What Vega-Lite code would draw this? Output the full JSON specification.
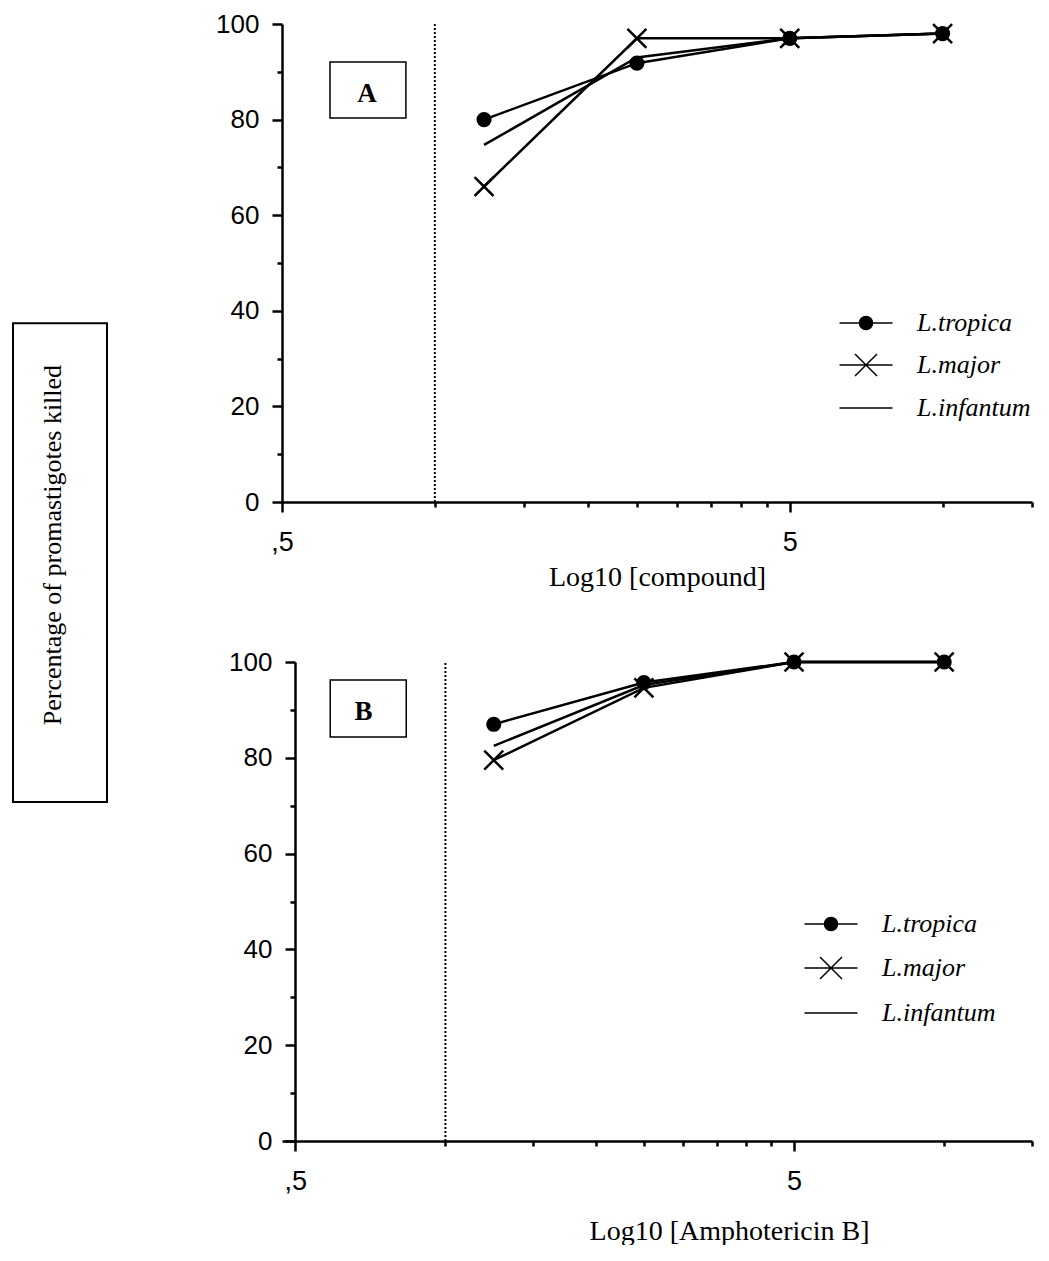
{
  "$schema": "https://vega.github.io/schema/vega-lite/v6.json",
  "background": "white",
  "padding": {"left": 12, "top": 11, "right": 0, "bottom": 0},
  "data": {"values": [
    {"panel": "A", "species": "L.tropica", "conc": 1.25, "pct": 80},
    {"panel": "A", "species": "L.tropica", "conc": 2.5, "pct": 91.8},
    {"panel": "A", "species": "L.tropica", "conc": 5, "pct": 97},
    {"panel": "A", "species": "L.tropica", "conc": 10, "pct": 98},
    {"panel": "A", "species": "L.major", "conc": 1.25, "pct": 66},
    {"panel": "A", "species": "L.major", "conc": 2.5, "pct": 97},
    {"panel": "A", "species": "L.major", "conc": 5, "pct": 97},
    {"panel": "A", "species": "L.major", "conc": 10, "pct": 98},
    {"panel": "A", "species": "L.infantum", "conc": 1.25, "pct": 74.7},
    {"panel": "A", "species": "L.infantum", "conc": 2.5, "pct": 93},
    {"panel": "A", "species": "L.infantum", "conc": 5, "pct": 97},
    {"panel": "A", "species": "L.infantum", "conc": 10, "pct": 98},
    {"panel": "B", "species": "L.tropica", "conc": 1.25, "pct": 87},
    {"panel": "B", "species": "L.tropica", "conc": 2.5, "pct": 95.7},
    {"panel": "B", "species": "L.tropica", "conc": 5, "pct": 100},
    {"panel": "B", "species": "L.tropica", "conc": 10, "pct": 100},
    {"panel": "B", "species": "L.major", "conc": 1.25, "pct": 79.5},
    {"panel": "B", "species": "L.major", "conc": 2.5, "pct": 94.6},
    {"panel": "B", "species": "L.major", "conc": 5, "pct": 100},
    {"panel": "B", "species": "L.major", "conc": 10, "pct": 100},
    {"panel": "B", "species": "L.infantum", "conc": 1.25, "pct": 82.5},
    {"panel": "B", "species": "L.infantum", "conc": 2.5, "pct": 95.2},
    {"panel": "B", "species": "L.infantum", "conc": 5, "pct": 100},
    {"panel": "B", "species": "L.infantum", "conc": 10, "pct": 100}
  ]},
  "spacing": 107,
  "hconcat": [
    {
      "width": 94,
      "height": 1129,
      "data": {"values": [{}]},
      "layer": [
        {
          "mark": {"type": "rect", "fill": "white", "stroke": "black", "strokeWidth": 2},
          "encoding": {
            "x": {"datum": 0, "type": "quantitative", "scale": {"domain": [0, 1], "nice": false}, "axis": null},
            "x2": {"datum": 1},
            "y": {"datum": 0.265, "type": "quantitative", "scale": {"domain": [0, 1], "reverse": true, "nice": false}, "axis": null},
            "y2": {"datum": 0.689}
          }
        },
        {
          "mark": {"type": "text", "angle": 270, "font": "Liberation Serif", "fontSize": 26, "align": "center", "baseline": "middle", "color": "black", "text": "Percentage of promastigotes killed"},
          "encoding": {
            "x": {"datum": 0.43, "type": "quantitative", "axis": null},
            "y": {"datum": 0.4615, "type": "quantitative", "axis": null}
          }
        }
      ]
    },
    {
      "spacing": 56,
      "vconcat": [
        {
          "width": 750,
          "height": 478,
          "resolve": {"axis": {"x": "independent", "y": "independent"}, "scale": {"shape": "independent"}},
          "layer": [
            {
              "data": {"values": [{}]},
              "mark": {"type": "rule", "strokeDash": [2, 2], "strokeWidth": 2, "color": "black"},
              "encoding": {
                "x": {"datum": 1, "type": "quantitative", "axis": null},
                "y": {"datum": 0, "type": "quantitative", "axis": null},
                "y2": {"datum": 100}
              }
            },
            {
              "data": {"values": [{}]},
              "mark": {"type": "rect", "fill": "white", "stroke": "black", "strokeWidth": 1.5},
              "encoding": {
                "x": {"datum": 0.6216, "type": "quantitative", "axis": null},
                "x2": {"datum": 0.877},
                "y": {"datum": 92.05, "type": "quantitative", "axis": null},
                "y2": {"datum": 80.33}
              }
            },
            {
              "data": {"values": [{}]},
              "mark": {"type": "text", "text": "A", "font": "Liberation Serif", "fontWeight": "bold", "fontSize": 27, "align": "center", "baseline": "alphabetic", "color": "black"},
              "encoding": {
                "x": {"datum": 0.735, "type": "quantitative", "axis": null},
                "y": {"datum": 83.7, "type": "quantitative", "axis": null}
              }
            },
            {
              "transform": [{"filter": "datum.panel == 'A'"}],
              "mark": {"type": "line", "color": "black", "strokeWidth": 2.5},
              "encoding": {
                "x": {"field": "conc", "type": "quantitative", "scale": {"type": "log", "domain": [0.5, 15], "nice": false},
                  "axis": {"values": [0.5, 5], "tickSize": 10, "labelExpr": "datum.value < 1 ? ',5' : '5'", "labelFlush": false, "labelPadding": 17, "labelFontSize": 27, "title": "Log10 [compound]", "titlePadding": 8}},
                "y": {"field": "pct", "type": "quantitative", "scale": {"domain": [0, 100], "nice": false},
                  "axis": {"values": [0, 20, 40, 60, 80, 100], "tickSize": 10, "labelPadding": 13, "title": null, "minExtent": 66}},
                "detail": {"field": "species"}
              }
            },
            {
              "transform": [{"filter": "datum.panel == 'A' && datum.species != 'L.infantum'"}],
              "mark": {"type": "point", "filled": true, "fill": "black", "stroke": "black", "strokeWidth": 2.5, "size": 160, "opacity": 1},
              "encoding": {
                "x": {"field": "conc", "type": "quantitative",
                  "axis": {"values": [1, 1.5, 2, 2.5, 3, 3.5, 4, 4.5, 10, 15], "tickSize": 5, "labels": false, "domain": false, "title": null, "orient": "bottom"}},
                "y": {"field": "pct", "type": "quantitative",
                  "axis": {"values": [10, 30, 50, 70, 90], "tickSize": 5, "labels": false, "domain": false, "title": null, "orient": "left"}},
                "shape": {"field": "species", "type": "nominal",
                  "scale": {"domain": ["L.tropica", "L.major", "L.infantum"], "range": ["circle", "M-1.5,-1.5L1.5,1.5M-1.5,1.5L1.5,-1.5", "circle"]},
                  "legend": null}
              }
            },
            {
              "transform": [{"filter": "datum.panel == 'A'"}],
              "mark": {"type": "point", "filled": true, "fill": "black", "stroke": "black", "strokeWidth": 2.5, "size": 1600, "opacity": 0},
              "encoding": {
                "x": {"field": "conc", "type": "quantitative", "axis": null},
                "y": {"field": "pct", "type": "quantitative", "axis": null},
                "shape": {"field": "species", "type": "nominal",
                  "scale": {"domain": ["L.tropica", "L.major", "L.infantum"], "range": [
                    "M-1.325,0H1.325M-0.325,0A0.325,0.325,0,1,0,0.325,0A0.325,0.325,0,1,0,-0.325,0Z",
                    "M-1.325,0H1.325M-0.55,-0.55L0.55,0.55M-0.55,0.55L0.55,-0.55",
                    "M-1.325,0H1.325"]},
                  "legend": {"orient": "none", "legendX": 563, "legendY": 278, "title": null, "padding": 0, "rowPadding": 8, "labelOffset": 30, "symbolSize": 1600, "labelFont": "Liberation Serif", "labelFontStyle": "italic", "labelFontSize": 26, "labelColor": "black",
                    "encode": {"symbols": {"update": {"fill": {"value": "black"}, "stroke": {"value": "black"}, "strokeWidth": {"value": 2.5}, "opacity": {"value": 1}}}}}}
              }
            }
          ]
        },
        {
          "width": 750,
          "height": 479,
          "resolve": {"axis": {"x": "independent", "y": "independent"}, "scale": {"shape": "independent"}},
          "layer": [
            {
              "data": {"values": [{}]},
              "mark": {"type": "rule", "strokeDash": [2, 2], "strokeWidth": 2, "color": "black"},
              "encoding": {
                "x": {"datum": 1, "type": "quantitative", "axis": null},
                "y": {"datum": 0, "type": "quantitative", "axis": null},
                "y2": {"datum": 100}
              }
            },
            {
              "data": {"values": [{}]},
              "mark": {"type": "rect", "fill": "white", "stroke": "black", "strokeWidth": 1.5},
              "encoding": {
                "x": {"datum": 0.5876, "type": "quantitative", "axis": null},
                "x2": {"datum": 0.8346},
                "y": {"datum": 96.24, "type": "quantitative", "axis": null},
                "y2": {"datum": 84.34}
              }
            },
            {
              "data": {"values": [{}]},
              "mark": {"type": "text", "text": "B", "font": "Liberation Serif", "fontWeight": "bold", "fontSize": 27, "align": "center", "baseline": "alphabetic", "color": "black"},
              "encoding": {
                "x": {"datum": 0.685, "type": "quantitative", "axis": null},
                "y": {"datum": 87.9, "type": "quantitative", "axis": null}
              }
            },
            {
              "transform": [{"filter": "datum.panel == 'B'"}],
              "mark": {"type": "line", "color": "black", "strokeWidth": 2.5},
              "encoding": {
                "x": {"field": "conc", "type": "quantitative", "scale": {"type": "log", "domain": [0.4703, 15], "nice": false},
                  "axis": {"values": [0.5, 5], "tickSize": 10, "labelExpr": "datum.value < 1 ? ',5' : '5'", "labelFlush": false, "labelPadding": 17, "labelFontSize": 27, "title": "Log10 [Amphotericin B]", "titlePadding": 23, "titleX": 447, "titleAlign": "center", "titleAnchor": null}},
                "y": {"field": "pct", "type": "quantitative", "scale": {"domain": [0, 100], "nice": false},
                  "axis": {"values": [0, 20, 40, 60, 80, 100], "tickSize": 10, "labelPadding": 13, "title": null, "offset": -13}},
                "detail": {"field": "species"}
              }
            },
            {
              "transform": [{"filter": "datum.panel == 'B' && datum.species != 'L.infantum'"}],
              "mark": {"type": "point", "filled": true, "fill": "black", "stroke": "black", "strokeWidth": 2.5, "size": 160, "opacity": 1},
              "encoding": {
                "x": {"field": "conc", "type": "quantitative",
                  "axis": {"values": [1, 1.5, 2, 2.5, 3, 3.5, 4, 4.5, 10, 15], "tickSize": 5, "labels": false, "domain": false, "title": null, "orient": "bottom"}},
                "y": {"field": "pct", "type": "quantitative",
                  "axis": {"values": [10, 30, 50, 70, 90], "tickSize": 5, "labels": false, "domain": false, "title": null, "orient": "left", "offset": -13}},
                "shape": {"field": "species", "type": "nominal",
                  "scale": {"domain": ["L.tropica", "L.major", "L.infantum"], "range": ["circle", "M-1.5,-1.5L1.5,1.5M-1.5,1.5L1.5,-1.5", "circle"]},
                  "legend": null}
              }
            },
            {
              "transform": [{"filter": "datum.panel == 'B'"}],
              "mark": {"type": "point", "filled": true, "fill": "black", "stroke": "black", "strokeWidth": 2.5, "size": 1600, "opacity": 0},
              "encoding": {
                "x": {"field": "conc", "type": "quantitative", "axis": null},
                "y": {"field": "pct", "type": "quantitative", "axis": null},
                "shape": {"field": "species", "type": "nominal",
                  "scale": {"domain": ["L.tropica", "L.major", "L.infantum"], "range": [
                    "M-1.325,0H1.325M-0.325,0A0.325,0.325,0,1,0,0.325,0A0.325,0.325,0,1,0,-0.325,0Z",
                    "M-1.325,0H1.325M-0.55,-0.55L0.55,0.55M-0.55,0.55L0.55,-0.55",
                    "M-1.325,0H1.325"]},
                  "legend": {"orient": "none", "legendX": 528, "legendY": 241, "title": null, "padding": 0, "rowPadding": 10, "labelOffset": 30, "symbolSize": 1600, "labelFont": "Liberation Serif", "labelFontStyle": "italic", "labelFontSize": 26, "labelColor": "black",
                    "encode": {"symbols": {"update": {"fill": {"value": "black"}, "stroke": {"value": "black"}, "strokeWidth": {"value": 2.5}, "opacity": {"value": 1}}}}}}
              }
            }
          ]
        }
      ]
    }
  ],
  "config": {
    "view": {"stroke": null},
    "axis": {"domainColor": "black", "tickColor": "black", "labelColor": "black", "titleColor": "black", "domainWidth": 2.5, "tickWidth": 2.5, "labelFont": "Liberation Sans", "labelFontSize": 26, "titleFont": "Liberation Serif", "titleFontSize": 28, "titleFontWeight": "normal", "grid": false}
  }
}
